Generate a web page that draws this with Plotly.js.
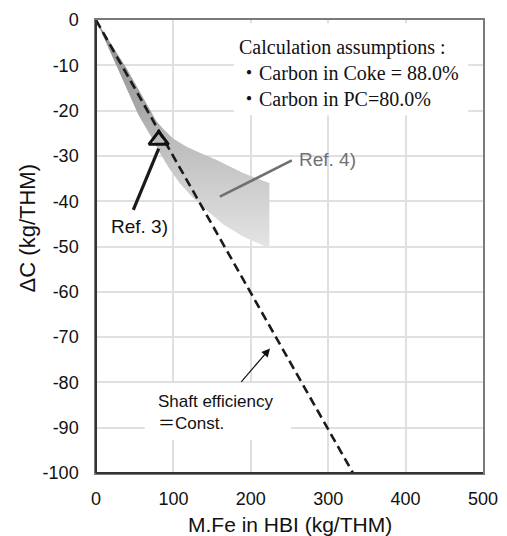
<!DOCTYPE html>
<html><head><meta charset="utf-8">
<script src="https://cdn.plot.ly/plotly-3.0.1.min.js"></script>
<style>html,body{margin:0;padding:0;background:#fff}</style>
</head><body><div id="chart" style="width:507px;height:536px"></div>
<script>
// Axis ticks
const xTickVals = [0, 100, 200, 300, 400, 500];
const yTickVals = [0, -10, -20, -30, -40, -50, -60, -70, -80, -90, -100];
const xTitle = 'M.Fe in HBI (kg/THM)';
const yTitle = 'ΔC (kg/THM)';

// Shaft efficiency = Const. line
const shaftX = [0, 332];
const shaftY = [0, -100];

// Shaded band (Ref. 4 region) : upper edge then lower edge back
const bandUpperX = [0, 40, 78, 88, 100, 117, 134, 156, 190, 224];
const bandUpperY = [0, -10.8, -22.3, -24.2, -26.2, -28, -29.3, -30.9, -33.8, -36];
const bandLowerX = [224, 190, 165, 147, 125, 108, 94, 82, 72, 55, 0];
const bandLowerY = [-50.4, -47.8, -45.2, -42.6, -39.2, -36, -32.6, -29.2, -26, -21, 0];

// Ref. 3 data point
const ref3X = [81];
const ref3Y = [-26.5];

const bandX = bandUpperX.concat(bandLowerX);
const bandY = bandUpperY.concat(bandLowerY);

const traces = [
  {
    x: bandX, y: bandY, type: 'scatter', mode: 'lines',
    fill: 'toself', line: {width: 0, color: 'rgba(0,0,0,0)'},
    fillgradient: {
      type: 'vertical', start: 0, stop: -52,
      colorscale: [[0, '#8e8e8e'], [0.38, '#a8a8a8'], [0.5, '#bababa'], [0.6, '#c4c4c4'], [0.72, '#cfcfcf'], [0.88, '#dcdcdc'], [1, '#e8e8e8']]
    },
    hoverinfo: 'skip', showlegend: false
  },
  {
    x: shaftX, y: shaftY, type: 'scatter', mode: 'lines',
    line: {color: '#1a1a1a', width: 2.6, dash: '9px,5px'},
    showlegend: false
  },
  {
    x: ref3X, y: ref3Y, type: 'scatter', mode: 'markers',
    marker: {symbol: 'triangle-up-open', size: 17, color: '#111', line: {width: 3, color: '#111'}},
    showlegend: false
  }
];

const sansFont = 'Arial, "Liberation Sans", "Noto Sans CJK JP", sans-serif';
const serifFont = '"Times New Roman", "Liberation Serif", "Noto Sans CJK JP", serif';

const layout = {
  width: 507, height: 536,
  margin: {l: 96, r: 24, t: 20, b: 63},
  paper_bgcolor: '#fff', plot_bgcolor: '#fff',
  showlegend: false,
  font: {family: sansFont, color: '#111'},
  xaxis: {
    range: [0, 500], tickmode: 'array', tickvals: xTickVals, ticktext: xTickVals.map(String),
    showgrid: true, gridcolor: '#e0e0e0', gridwidth: 1.5, zeroline: false,
    showline: true, linecolor: '#7a7a7a', linewidth: 1.5, mirror: true,
    ticks: 'outside', ticklen: 9, tickwidth: 1, tickcolor: 'rgba(255,255,255,0)',
    tickfont: {size: 18, color: '#111', family: sansFont}
  },
  yaxis: {
    range: [-100, 0], tickmode: 'array', tickvals: yTickVals, ticktext: yTickVals.map(String),
    showgrid: true, gridcolor: '#e0e0e0', gridwidth: 1.5, zeroline: false,
    showline: true, linecolor: '#7a7a7a', linewidth: 1.5, mirror: true,
    ticks: 'outside', ticklen: 12, tickwidth: 1, tickcolor: 'rgba(255,255,255,0)',
    tickfont: {size: 18, color: '#111', family: sansFont}
  },
  // overlay axes only carrying the short inside tick marks (top and left)
  xaxis2: {
    range: [0, 500], overlaying: 'x', side: 'top', anchor: 'y',
    tickmode: 'array', tickvals: xTickVals, showticklabels: false,
    showgrid: false, zeroline: false, showline: false,
    ticks: 'inside', ticklen: 6, tickwidth: 2, tickcolor: '#666'
  },
  yaxis2: {
    range: [-100, 0], overlaying: 'y', side: 'left', anchor: 'x',
    tickmode: 'array', tickvals: yTickVals, showticklabels: false,
    showgrid: false, zeroline: false, showline: false,
    ticks: 'inside', ticklen: 7, tickwidth: 2, tickcolor: '#444'
  },
  shapes: [
    // white backgrounds behind the text blocks (hide gridlines)
    {type: 'rect', xref: 'x', yref: 'y', x0: 178, x1: 481, y0: -0.7, y1: -21, layer: 'between',
     fillcolor: '#fff', line: {width: 0}},
    {type: 'rect', xref: 'x', yref: 'y', x0: 63, x1: 252, y0: -80.2, y1: -92.7, layer: 'between',
     fillcolor: '#fff', line: {width: 0}},
    // dark left and bottom axis lines
    {type: 'line', xref: 'paper', yref: 'paper', x0: 0, x1: 1, y0: 0, y1: 0, layer: 'above',
     line: {color: '#333', width: 2}},
    {type: 'line', xref: 'paper', yref: 'paper', x0: 0, x1: 0, y0: 0, y1: 1, layer: 'above',
     line: {color: '#333', width: 2}},
    // Ref. 3 pointer
    {type: 'line', xref: 'x', yref: 'y', x0: 48.2, y0: -41.9, x1: 81, y1: -28.4,
     line: {color: '#1a1a1a', width: 3.2}},
    // Ref. 4 pointer
    {type: 'line', xref: 'x', yref: 'y', x0: 160, y0: -39, x1: 253, y1: -31,
     line: {color: '#707070', width: 2.6}}
  ],
  annotations: [
    // axis titles
    {xref: 'paper', yref: 'paper', x: 0.5, y: -0.1126, xanchor: 'center', yanchor: 'middle', showarrow: false,
     text: xTitle, font: {family: sansFont, size: 21, color: '#111'}},
    {xref: 'paper', yref: 'paper', x: -0.1783, y: 0.54, xanchor: 'center', yanchor: 'middle', showarrow: false,
     textangle: -90, text: yTitle, font: {family: sansFont, size: 22, color: '#111'}},
    {xref: 'x', yref: 'y', x: 182, y: -11.6, xanchor: 'left', yanchor: 'middle', align: 'left', showarrow: false,
     text: 'Calculation assumptions :<br>・Carbon in Coke = 88.0%<br>・Carbon in PC=80.0%',
     font: {family: serifFont, size: 20, color: '#111'}},
    {xref: 'x', yref: 'y', x: 55.6, y: -45.6, xanchor: 'center', yanchor: 'middle', showarrow: false,
     text: 'Ref. 3)', font: {family: sansFont, size: 19, color: '#111'}},
    {xref: 'x', yref: 'y', x: 259.5, y: -30.9, xanchor: 'left', yanchor: 'middle', showarrow: false,
     text: 'Ref. 4)', font: {family: sansFont, size: 19, color: '#707070'}},
    {xref: 'x', yref: 'y', x: 77, y: -86.7, xanchor: 'left', yanchor: 'middle', align: 'left', showarrow: false,
     text: 'Shaft efficiency<br>＝Const.',
     font: {family: sansFont, size: 17, color: '#111'}},
    {xref: 'x', yref: 'y', x: 224.8, y: -72.5, axref: 'x', ayref: 'y', ax: 186, ay: -80.2,
     showarrow: true, arrowhead: 2, arrowsize: 1.4, arrowwidth: 1.2, arrowcolor: '#111', text: ''}
  ]
};

Plotly.newPlot('chart', traces, layout, {displayModeBar: false});
</script>
</body></html>
